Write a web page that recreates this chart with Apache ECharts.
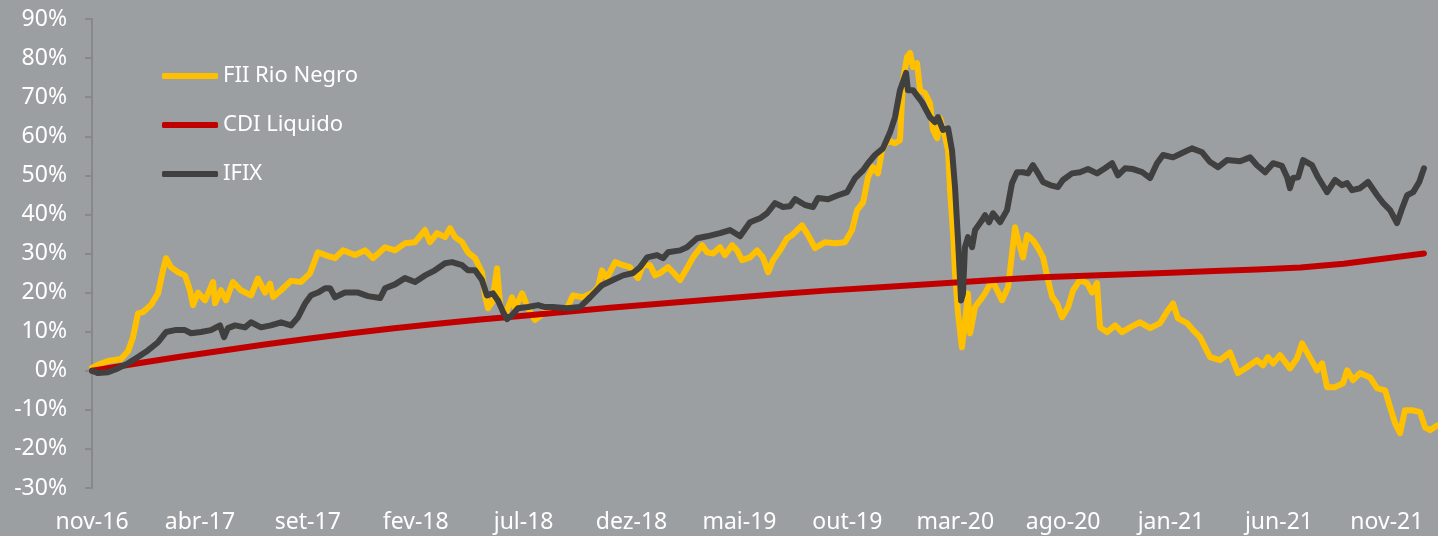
<!DOCTYPE html>
<html>
<head>
    <meta charset="utf-8">
    <title>FII Rio Negro x CDI x IFIX</title>
    <script src="https://cdn.jsdelivr.net/npm/echarts@6/dist/echarts.min.js"></script>
    <style>
        html, body { margin: 0; padding: 0; background: #9c9fa1; }
        #main { width: 1438px; height: 536px; }
    </style>
</head>
<body>
    <div id="main"></div>
    <script type="text/javascript">
        // x = months since nov-16, y = accumulated return (%)
        var xTickLabels = ['nov-16', 'abr-17', 'set-17', 'fev-18', 'jul-18', 'dez-18', 'mai-19',
            'out-19', 'mar-20', 'ago-20', 'jan-21', 'jun-21', 'nov-21'];

        var rioNegro = [
            [0.00, 0.8], [0.28, 1.5], [0.74, 2.5], [1.34, 3.0], [1.67, 5.0], [1.90, 8.6], [2.13, 14.7],
            [2.36, 15.0], [2.73, 16.8], [3.06, 19.8], [3.29, 25.7], [3.43, 28.8], [3.66, 26.5], [3.99, 25.2],
            [4.31, 24.4], [4.54, 20.6], [4.68, 16.8], [4.91, 20.0], [5.24, 18.0], [5.61, 22.7], [5.70, 17.3],
            [5.98, 20.6], [6.21, 18.0], [6.53, 22.7], [6.90, 20.6], [7.37, 19.3], [7.69, 23.6], [8.02, 20.0],
            [8.25, 22.3], [8.39, 18.9], [8.76, 20.6], [9.22, 23.0], [9.68, 22.7], [10.10, 24.9], [10.47, 30.3],
            [10.80, 29.6], [11.26, 28.8], [11.63, 30.8], [12.19, 29.6], [12.65, 30.8], [13.02, 28.8], [13.58, 31.6],
            [14.04, 30.8], [14.50, 32.6], [14.97, 32.9], [15.43, 36.0], [15.66, 32.9], [15.99, 35.2], [16.36, 34.2],
            [16.59, 36.5], [16.82, 34.2], [17.15, 32.9], [17.42, 30.3], [17.75, 28.8], [18.07, 25.2], [18.21, 19.3],
            [18.35, 16.0], [18.54, 17.5], [18.77, 26.2], [18.91, 16.8], [19.14, 14.2], [19.46, 18.8], [19.60, 16.0],
            [19.93, 19.8], [20.20, 16.0], [20.53, 13.0], [20.99, 15.0], [21.46, 14.8], [22.01, 16.0], [22.29, 19.3],
            [22.75, 18.8], [23.22, 20.0], [23.45, 21.4], [23.63, 25.7], [23.86, 23.7], [24.24, 27.8], [24.61, 27.0],
            [24.93, 26.5], [25.30, 23.7], [25.53, 27.0], [25.86, 27.0], [26.09, 24.4], [26.32, 25.0], [26.69, 26.5],
            [26.92, 25.2], [27.25, 23.2], [27.57, 26.2], [27.85, 29.0], [28.27, 32.1], [28.50, 30.3], [28.78, 30.0],
            [29.10, 31.6], [29.33, 29.6], [29.66, 32.1], [29.89, 30.8], [30.12, 28.3], [30.49, 29.0], [30.82, 30.8],
            [31.09, 29.0], [31.33, 25.2], [31.56, 28.3], [31.88, 30.8], [32.21, 33.9], [32.44, 34.7], [32.90, 37.2],
            [33.18, 34.7], [33.50, 31.4], [33.97, 32.9], [34.43, 32.6], [34.89, 32.9], [35.22, 36.0], [35.45, 41.1],
            [35.73, 43.1], [35.96, 49.5], [36.19, 52.1], [36.42, 50.5], [36.61, 56.4], [36.89, 59.0], [37.21, 58.2],
            [37.44, 59.0], [37.58, 74.4], [37.77, 80.3], [37.91, 81.3], [38.04, 77.7], [38.23, 78.7], [38.37, 71.8],
            [38.60, 71.0], [38.83, 68.5], [38.97, 61.6], [39.16, 59.5], [39.30, 64.6], [39.53, 59.8], [39.67, 56.4],
            [39.76, 46.2], [39.90, 35.2], [39.99, 25.0], [40.13, 14.7], [40.31, 6.0], [40.45, 12.2], [40.59, 19.8],
            [40.69, 9.6], [40.92, 16.3], [41.15, 18.0], [41.38, 19.8], [41.71, 23.2], [41.94, 20.6], [42.17, 18.0],
            [42.45, 21.4], [42.63, 30.0], [42.77, 36.7], [42.91, 33.4], [43.14, 29.0], [43.33, 34.7], [43.60, 33.4],
            [43.84, 31.4], [44.07, 29.0], [44.30, 23.2], [44.49, 18.9], [44.72, 17.2], [44.95, 13.7], [45.23, 16.3],
            [45.46, 20.6], [45.78, 23.2], [46.11, 22.4], [46.34, 20.0], [46.57, 22.4], [46.71, 11.1], [47.03, 9.9],
            [47.41, 11.6], [47.73, 9.9], [48.10, 11.1], [48.56, 12.4], [49.03, 10.9], [49.49, 12.2], [49.86, 15.5],
            [50.09, 17.2], [50.32, 13.4], [50.74, 12.2], [51.02, 10.4], [51.34, 8.6], [51.81, 3.5], [52.27, 2.7],
            [52.73, 4.7], [53.10, -0.6], [53.52, 0.9], [53.98, 2.7], [54.26, 1.4], [54.49, 3.5], [54.73, 1.9],
            [55.05, 4.0], [55.51, 0.6], [55.84, 3.2], [56.07, 7.0], [56.30, 4.7], [56.77, 0.1], [57.00, 1.9],
            [57.23, -4.2], [57.60, -4.2], [57.97, -3.2], [58.16, 0.1], [58.43, -2.4], [58.76, -0.6], [59.22, -1.7],
            [59.55, -4.5], [59.92, -5.0], [60.15, -9.3], [60.38, -13.4], [60.61, -16.0], [60.84, -10.1], [61.17, -10.1],
            [61.54, -10.6], [61.77, -14.5], [62.00, -15.2], [62.33, -14.0]
        ];

        var cdiLiquido = [
            [0, 0], [2, 1.8], [4, 3.5], [6, 5.1], [8, 6.7], [10, 8.2], [12, 9.6], [14, 10.9], [16, 12.0],
            [18, 13.1], [20, 14.1], [22, 15.1], [24, 16.1], [26, 17.0], [28, 17.9], [30, 18.8], [32, 19.7],
            [34, 20.5], [36, 21.2], [38, 21.9], [40, 22.6], [42, 23.3], [44, 23.9], [46, 24.3], [48, 24.7],
            [50, 25.1], [52, 25.5], [54, 25.9], [56, 26.4], [58, 27.4], [60, 28.8], [61.72, 30.0]
        ];

        var ifix = [
            [0.00, 0.0], [0.28, -0.6], [0.74, -0.4], [1.20, 0.6], [1.67, 1.9], [2.13, 3.5], [2.59, 5.2],
            [3.06, 7.3], [3.43, 9.9], [3.85, 10.4], [4.31, 10.4], [4.59, 9.6], [5.05, 9.9], [5.51, 10.4],
            [5.93, 11.6], [6.12, 8.6], [6.30, 10.9], [6.63, 11.6], [7.09, 11.1], [7.37, 12.4], [7.83, 11.1],
            [8.29, 11.6], [8.76, 12.4], [9.22, 11.6], [9.55, 13.7], [9.87, 17.2], [10.15, 19.3], [10.47, 20.0],
            [10.80, 21.1], [11.03, 21.1], [11.26, 18.8], [11.72, 20.0], [12.33, 20.0], [12.79, 19.1], [13.35, 18.6],
            [13.58, 21.1], [14.04, 22.1], [14.50, 23.7], [14.97, 22.7], [15.43, 24.4], [15.89, 25.7], [16.36, 27.5],
            [16.68, 27.8], [17.15, 27.0], [17.42, 25.7], [17.75, 25.7], [18.07, 23.2], [18.30, 19.3], [18.58, 19.8],
            [18.81, 18.0], [19.05, 15.0], [19.23, 13.2], [19.46, 14.2], [19.74, 16.0], [20.20, 16.3], [20.67, 16.8],
            [20.99, 16.3], [21.36, 16.3], [22.01, 16.0], [22.61, 16.3], [23.08, 18.8], [23.63, 21.9], [24.14, 23.2],
            [24.61, 24.4], [25.07, 25.0], [25.39, 26.5], [25.72, 29.0], [26.18, 29.6], [26.46, 28.8], [26.69, 30.3],
            [27.25, 30.8], [27.57, 31.6], [28.04, 33.9], [28.50, 34.4], [29.10, 35.2], [29.56, 36.0], [30.03, 34.4],
            [30.49, 38.0], [30.95, 39.0], [31.28, 40.3], [31.65, 42.9], [32.02, 41.9], [32.34, 42.1], [32.58, 43.9],
            [33.04, 42.4], [33.41, 41.9], [33.64, 44.2], [34.11, 43.9], [34.57, 44.9], [34.99, 45.7], [35.36, 49.3],
            [35.73, 51.3], [35.96, 53.1], [36.28, 55.2], [36.65, 56.9], [36.98, 61.0], [37.21, 64.9], [37.44, 71.8],
            [37.72, 76.2], [37.81, 71.8], [38.04, 71.8], [38.46, 68.7], [38.83, 64.9], [39.06, 63.6], [39.20, 64.9],
            [39.43, 61.6], [39.67, 62.0], [39.85, 56.4], [39.99, 47.0], [40.13, 33.4], [40.27, 18.0], [40.36, 19.8],
            [40.45, 31.6], [40.59, 34.2], [40.78, 31.6], [40.92, 36.0], [41.24, 38.5], [41.38, 39.8], [41.57, 38.0],
            [41.75, 40.3], [42.08, 38.0], [42.40, 41.1], [42.63, 48.0], [42.86, 50.8], [43.14, 50.8], [43.37, 50.5],
            [43.60, 52.6], [43.84, 50.5], [44.07, 48.3], [44.39, 47.5], [44.76, 47.0], [44.99, 48.8], [45.41, 50.5],
            [45.78, 50.8], [46.15, 51.6], [46.57, 50.5], [46.94, 51.8], [47.27, 53.1], [47.54, 50.0], [47.87, 51.8],
            [48.24, 51.6], [48.66, 50.8], [49.03, 49.3], [49.35, 53.1], [49.63, 55.2], [50.09, 54.6], [50.51, 55.7],
            [50.97, 56.9], [51.44, 55.9], [51.81, 53.4], [52.18, 52.1], [52.59, 53.9], [53.20, 53.6], [53.66, 54.6],
            [53.98, 52.6], [54.36, 50.8], [54.73, 53.1], [55.14, 52.4], [55.38, 49.5], [55.51, 46.7], [55.65, 49.3],
            [55.89, 49.5], [56.12, 53.9], [56.53, 52.6], [56.81, 49.5], [57.23, 45.7], [57.60, 48.8], [57.92, 47.5],
            [58.16, 48.0], [58.39, 46.2], [58.76, 46.7], [59.13, 48.3], [59.55, 44.9], [59.83, 42.9], [60.15, 41.1],
            [60.47, 37.8], [60.71, 41.6], [60.94, 44.9], [61.22, 45.7], [61.50, 48.3], [61.72, 51.8]
        ];

        var myChart = echarts.init(document.getElementById('main'));

        var labelFont = { color: '#ffffff', fontFamily: 'Noto Sans', fontSize: 23 };

        function lineSeries(name, data, color) {
            return {
                name: name,
                type: 'line',
                data: data,
                showSymbol: false,
                symbol: 'none',
                color: color,
                lineStyle: { color: color, width: 6, cap: 'round', join: 'round' },
                emphasis: { disabled: true }
            };
        }

        var option = {
            backgroundColor: '#9c9fa1',
            animation: false,
            grid: { left: 92, right: 0, top: 19, bottom: 48 },
            legend: {
                orient: 'vertical',
                left: 157,
                top: 60,
                itemWidth: 56,
                itemHeight: 6,
                itemGap: 27,
                itemTextGap: 4,
                icon: 'roundRect',
                textStyle: { color: '#ffffff', fontFamily: 'Noto Sans', fontSize: 22 },
                data: ['FII Rio Negro', 'CDI Liquido', 'IFIX']
            },
            xAxis: {
                type: 'value',
                min: 0,
                max: 62.37,
                interval: 5,
                splitLine: { show: false },
                axisLine: { show: false },
                axisTick: { show: false },
                axisLabel: Object.assign({
                    margin: 23,
                    showMaxLabel: false,
                    formatter: function (v) {
                        var i = Math.round(v / 5);
                        return Math.abs(v - i * 5) < 1e-6 && xTickLabels[i] ? xTickLabels[i] : '';
                    }
                }, labelFont)
            },
            yAxis: {
                type: 'value',
                min: -30,
                max: 90,
                interval: 10,
                splitLine: { show: false },
                axisLine: { show: true, lineStyle: { color: '#868889', width: 2 } },
                axisTick: { show: true, length: 7, lineStyle: { color: '#868889', width: 2 } },
                axisLabel: Object.assign({ margin: 25, formatter: '{value}%' }, labelFont)
            },
            series: [
                lineSeries('FII Rio Negro', rioNegro, '#ffc000'),
                lineSeries('CDI Liquido', cdiLiquido, '#c00000'),
                lineSeries('IFIX', ifix, '#404040')
            ]
        };

        myChart.setOption(option);
    </script>
</body>
</html>
